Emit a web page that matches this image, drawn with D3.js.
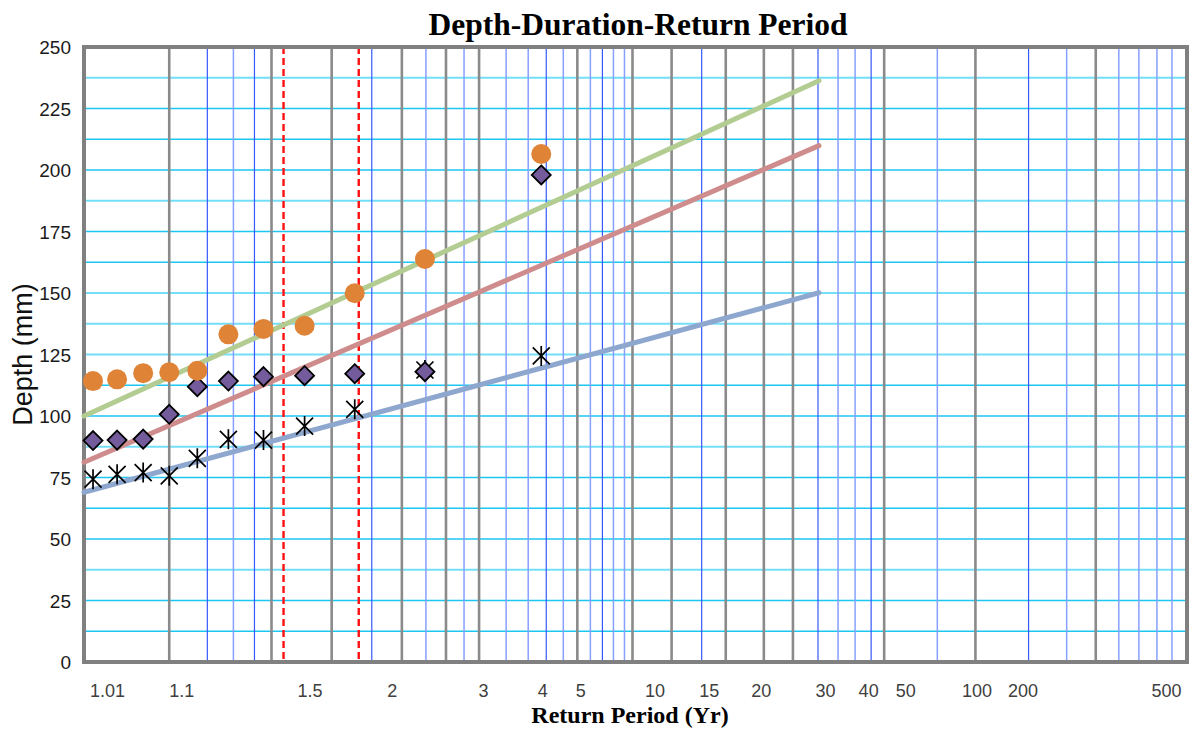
<!DOCTYPE html>
<html>
<head>
<meta charset="utf-8">
<script src="https://cdn.jsdelivr.net/npm/d3@7"></script>
<style>
  body { margin: 0; background: #fff; }
  svg { display: block; }
</style>
</head>
<body>
<svg width="1190" height="729"></svg>
<script>
// x is the position along the probability paper (0..110 across the plot)
var periodX = [0.9, 3.3, 5.9, 8.5, 11.3, 14.4, 17.9, 22.0, 27.0, 34.0, 45.6];

var depthCircle  = [114.2, 114.9, 117.4, 117.8, 118.4, 133.2, 135.4, 136.7, 149.9, 163.8, 206.5];
var depthDiamond = [90.0, 90.2, 90.6, 100.7, 111.9, 114.2, 116.0, 116.4, 117.2, 118.0, 198.0];
var depthStar    = [74.3, 76.3, 77.0, 75.7, 82.8, 90.5, 90.2, 95.9, 102.7, 118.7, 124.4];

// fitted lines: [x, depth] at start and end
var fitGreen = [[0, 100.0], [73.3, 236.3]];
var fitRed   = [[0, 81.2], [73.3, 209.9]];
var fitBlue  = [[0, 69.0], [73.3, 150.1]];

var tickLabels = ["1.01", "1.1", "1.5", "2", "3", "4", "5", "10", "15", "20", "30", "40", "50", "100", "200", "500"];
var tickPos    = [2.3, 9.7, 22.5, 30.7, 39.8, 45.7, 49.5, 56.9, 62.3, 67.5, 73.9, 78.2, 81.9, 89.0, 93.6, 107.9];

var grayLines = [8.5, 18.7, 24.7, 31.7, 36.1, 39.4, 49.2, 54.7, 58.6, 64.0, 67.8, 70.7, 79.8, 88.9, 100.9];
var blueDark  = [12.3, 17.0, 28.7, 46.1, 51.7, 61.6, 73.2, 78.5, 94.2];
var blueLight = [14.9, 34.1, 37.9, 42.1, 44.3, 47.8, 50.5, 52.8, 53.9, 75.2, 76.9, 85.1, 98.0, 103.2, 105.2, 107.0, 108.5];
var redDashed = [19.9, 27.4];

var yTicks = d3.range(0, 251, 25);
var yMinor = d3.range(12.5, 250, 12.5);
var yMinorThick = [237.5, 187.5, 150, 137.5, 125, 87.5, 37.5];

var svg = d3.select("svg"),
  margin = {top: 47, right: 3, bottom: 67, left: 84},
  width = +svg.attr("width") - margin.left - margin.right,
  height = +svg.attr("height") - margin.top - margin.bottom;

var x = d3.scaleLinear().domain([0, 110]).range([0, width]);
var y = d3.scaleLinear().domain([0, 250]).range([height, 0]);

var g = svg.append("g")
  .attr("transform", "translate(" + margin.left + "," + margin.top + ")");

// horizontal grid
g.selectAll(".hgrid")
  .data(yMinor)
  .enter().append("line")
  .attr("x1", 0).attr("x2", width)
  .attr("y1", function(d) { return y(d); })
  .attr("y2", function(d) { return y(d); })
  .attr("stroke", function(d) { return yMinorThick.indexOf(d) >= 0 ? "#74def8" : "#1ec6f2"; })
  .attr("stroke-width", function(d) { return yMinorThick.indexOf(d) >= 0 ? 2.2 : 1.5; });

function vlines(data, color, w) {
  g.append("g").selectAll("line")
    .data(data)
    .enter().append("line")
    .attr("x1", function(d) { return x(d); })
    .attr("x2", function(d) { return x(d); })
    .attr("y1", 0).attr("y2", height)
    .attr("stroke", color)
    .attr("stroke-width", w);
}

vlines(blueLight, "#86a0ff", 1.5);
vlines(blueDark, "#3558ff", 1.2);
vlines(grayLines, "#8a8a8a", 2.6);

g.append("g").selectAll("line")
  .data(redDashed)
  .enter().append("line")
  .attr("x1", function(d) { return x(d); })
  .attr("x2", function(d) { return x(d); })
  .attr("y1", 0).attr("y2", height)
  .attr("stroke", "#ff1010")
  .attr("stroke-width", 2.4)
  .attr("stroke-dasharray", "7,4");

// plot frame
g.append("rect")
  .attr("width", width).attr("height", height)
  .attr("fill", "none")
  .attr("stroke", "#808080")
  .attr("stroke-width", 4);

// fitted lines
var line = d3.line()
  .x(function(d) { return x(d[0]); })
  .y(function(d) { return y(d[1]); });

[[fitBlue, "#8ea7cf"], [fitRed, "#cf8c8c"], [fitGreen, "#b3cc92"]].forEach(function(s) {
  g.append("path")
    .datum(s[0])
    .attr("fill", "none")
    .attr("stroke", s[1])
    .attr("stroke-width", 5)
    .attr("stroke-linecap", "round")
    .attr("d", line);
});

// stars
var star = "M-8.5,-8.5L8.5,8.5M-8.5,8.5L8.5,-8.5M0,-10L0,10";
g.selectAll(".star")
  .data(depthStar)
  .enter().append("path")
  .attr("transform", function(d, i) { return "translate(" + x(periodX[i]) + "," + y(d) + ")"; })
  .attr("d", star)
  .attr("fill", "none")
  .attr("stroke", "#000")
  .attr("stroke-width", 1.7);

// diamonds
g.selectAll(".diamond")
  .data(depthDiamond)
  .enter().append("path")
  .attr("transform", function(d, i) { return "translate(" + x(periodX[i]) + "," + y(d) + ")"; })
  .attr("d", "M0,-9.5L9.5,0L0,9.5L-9.5,0Z")
  .attr("fill", "#735b9c")
  .attr("stroke", "#000")
  .attr("stroke-width", 1.8);

// circles
g.selectAll(".dot")
  .data(depthCircle)
  .enter().append("circle")
  .attr("cx", function(d, i) { return x(periodX[i]); })
  .attr("cy", function(d) { return y(d); })
  .attr("r", 10)
  .attr("fill", "#df8437");

// axes
var yAxis = d3.axisLeft(y).tickValues(yTicks).tickSize(0).tickPadding(13);
var yg = g.append("g").call(yAxis);
yg.select(".domain").remove();
yg.selectAll("text")
  .style("font-family", "'Liberation Sans', Arial, sans-serif")
  .style("font-size", "19px")
  .attr("fill", "#1a1a1a")
  .attr("dy", "0.36em");

var xAxis = d3.axisBottom(x).tickValues(tickPos)
  .tickFormat(function(d, i) { return tickLabels[i]; })
  .tickSize(0).tickPadding(22);
var xg = g.append("g")
  .attr("transform", "translate(0," + height + ")")
  .call(xAxis);
xg.select(".domain").remove();
xg.selectAll("text")
  .style("font-family", "'Liberation Sans', Arial, sans-serif")
  .style("font-size", "18px")
  .attr("fill", "#404040");

// titles
svg.append("text")
  .attr("x", 638).attr("y", 35)
  .style("text-anchor", "middle")
  .style("font-family", "'Liberation Serif', 'Times New Roman', serif")
  .style("font-weight", "bold")
  .style("font-size", "31.5px")
  .text("Depth-Duration-Return Period");

svg.append("text")
  .attr("x", 630).attr("y", 723)
  .style("text-anchor", "middle")
  .style("font-family", "'Liberation Serif', 'Times New Roman', serif")
  .style("font-weight", "bold")
  .style("font-size", "24px")
  .text("Return Period (Yr)");

svg.append("text")
  .attr("transform", "rotate(-90)")
  .attr("x", -(margin.top + height / 2))
  .attr("y", 32)
  .style("text-anchor", "middle")
  .style("font-family", "'Liberation Sans', Arial, sans-serif")
  .style("font-size", "27px")
  .attr("fill", "#111")
  .text("Depth (mm)");
</script>
</body>
</html>
